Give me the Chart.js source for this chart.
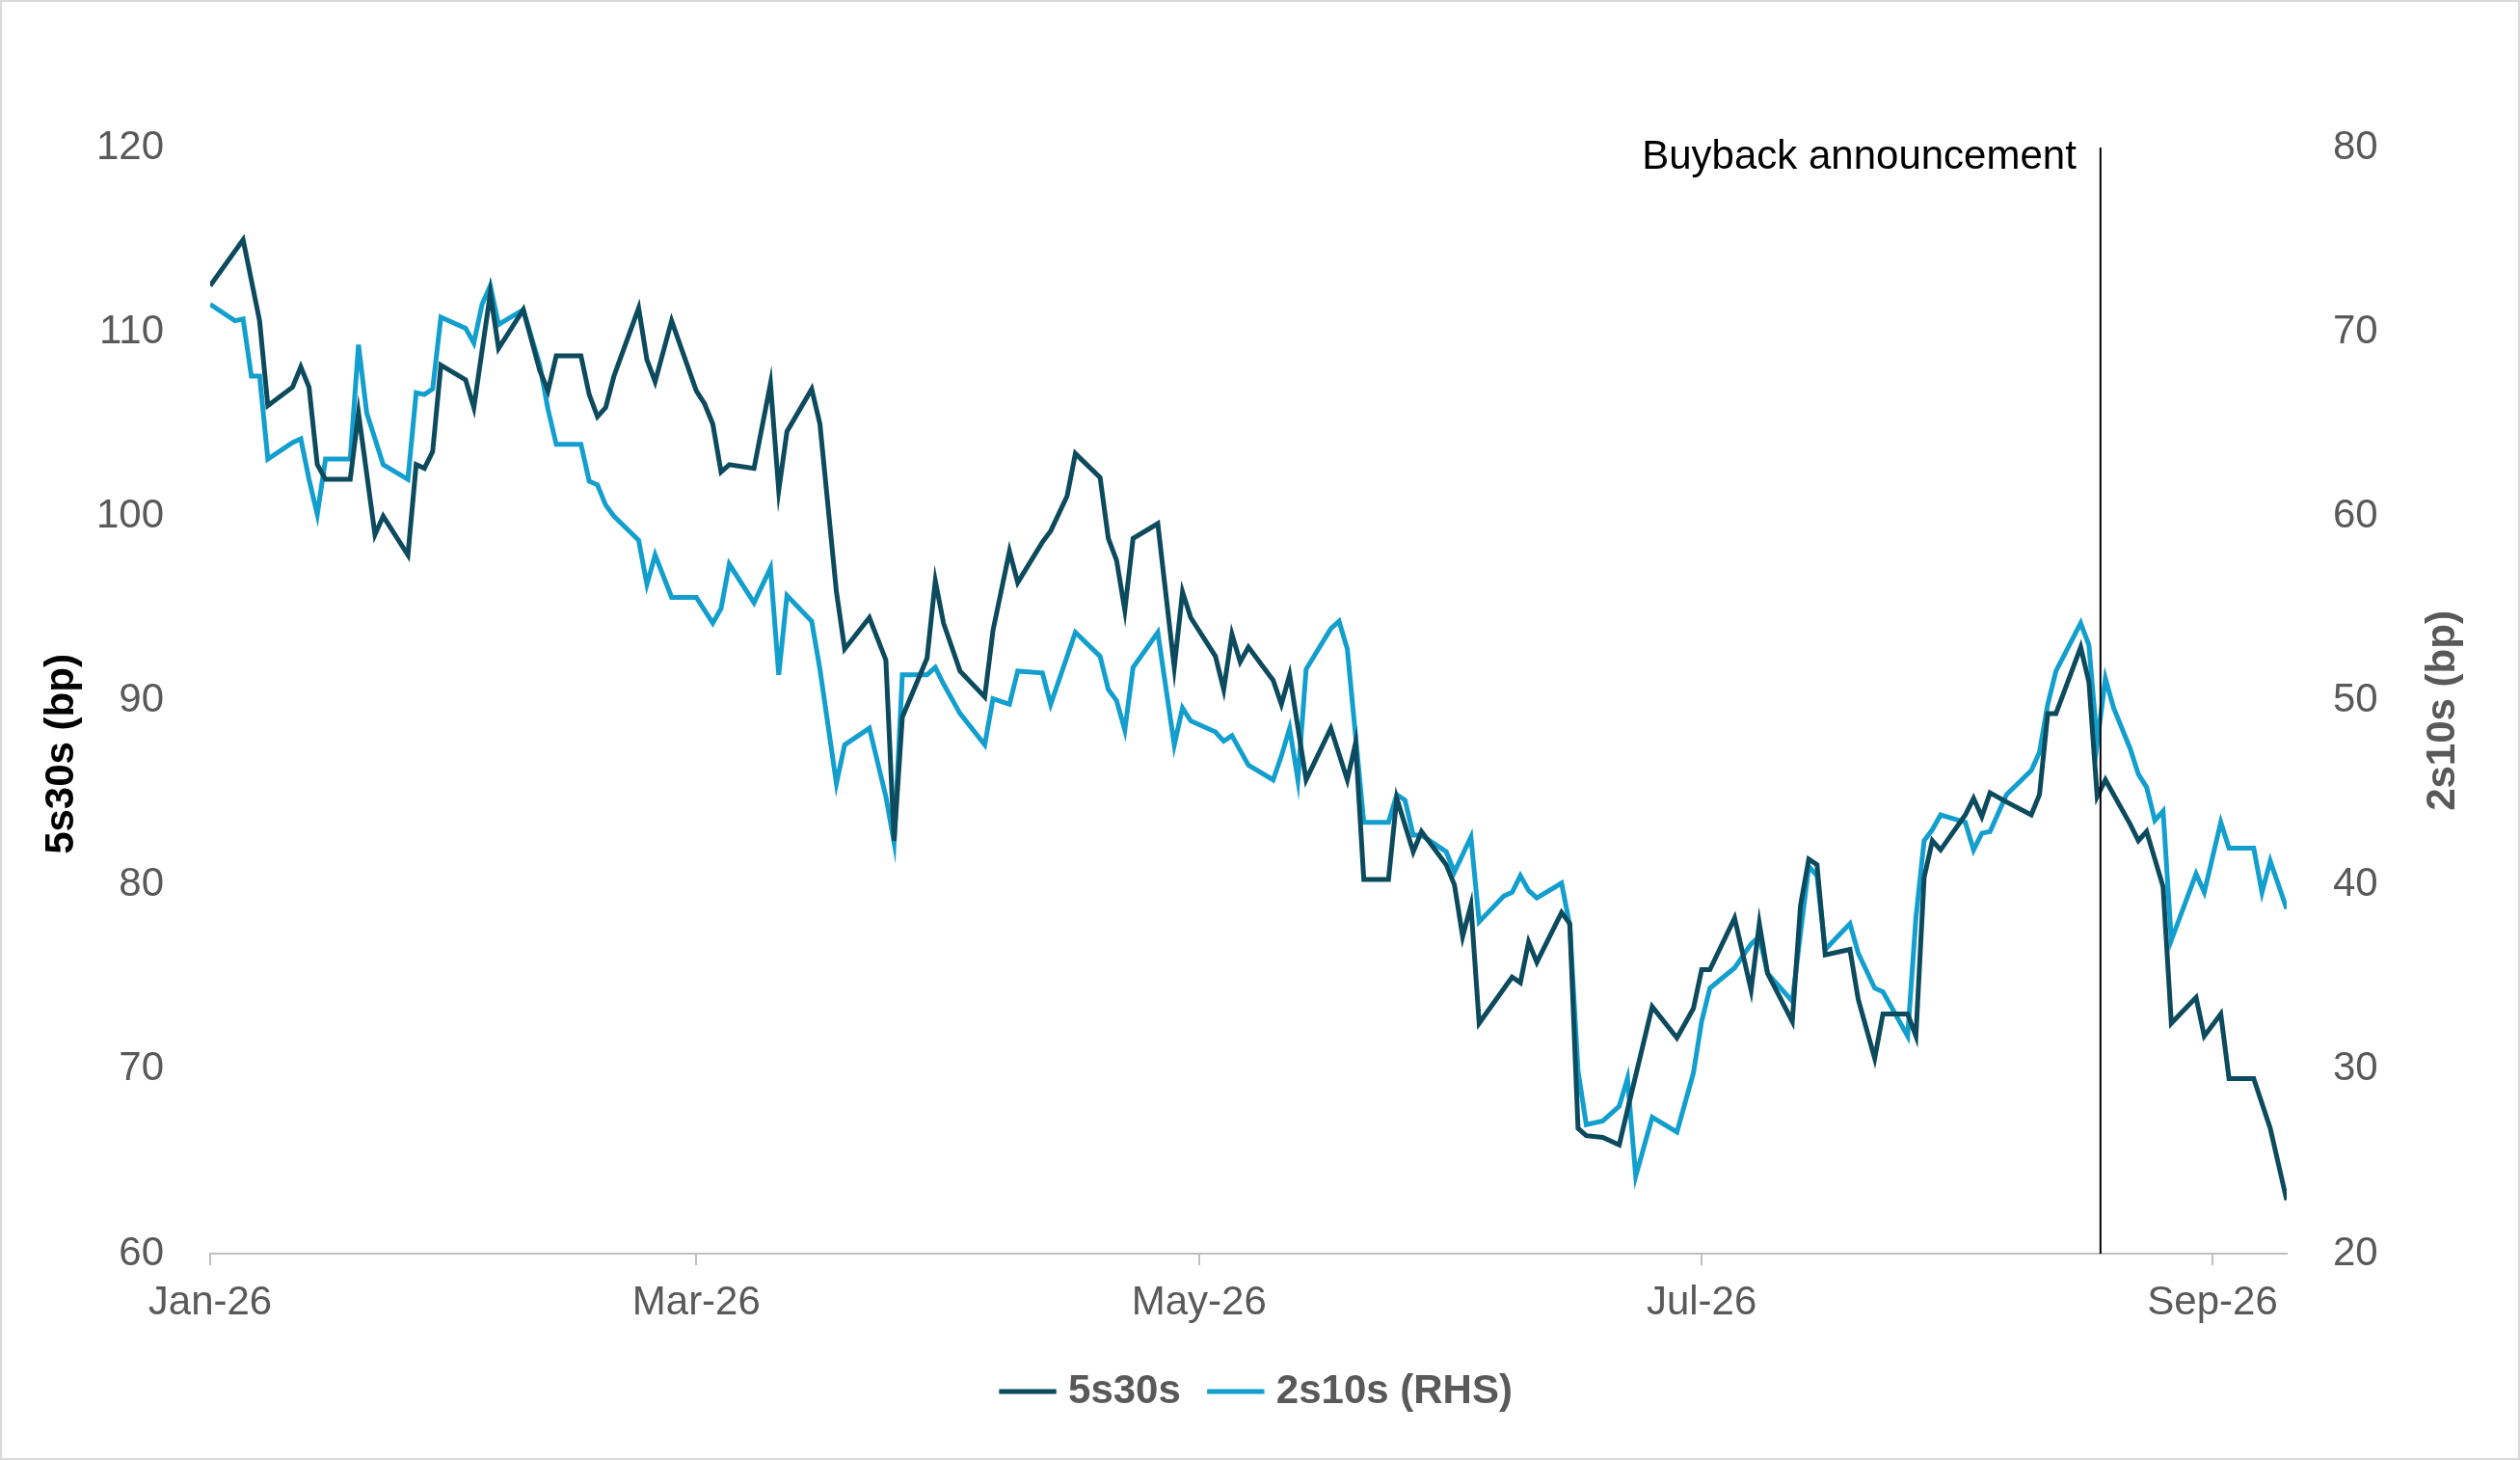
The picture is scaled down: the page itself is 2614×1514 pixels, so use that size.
<!DOCTYPE html>
<html><head><meta charset="utf-8">
<script src="https://cdn.jsdelivr.net/npm/chart.js@4/dist/chart.umd.min.js"></script>
<style>html,body{margin:0;padding:0;background:#fff}#wrap{width:2614px;height:1514px;box-sizing:border-box;border:2px solid #d9d9d9}</style>
</head><body><div id="wrap"><canvas id="c" width="2610" height="1510"></canvas></div>
<script>
const tickDays = [0, 59, 120, 181, 243];
const tickLabels = ["Jan-26", "Mar-26", "May-26", "Jul-26", "Sep-26"];
const eventDay = 229.4;
const eventLabel = "Buyback announcement";
const leftTitle = "5s30s (bp)";
const rightTitle = "2s10s (bp)";

const days5s30s = [0,4,6,7,10,11,12,13,14,17, 18,20,21,24,25,26,27,28,31,32, 34,35,38,40,41,42,45,46,47,48, 49,52,53,54,56,59,60,61,62,63,
66,68,69,70,73,74,76,77,80,82, 83,84,87,88,89,91,94,95,97,98, 101,102,104,105,108,109,110,111,112,115, 117,118,119,122,123,124,125,126,129,130,
131,133,136,138,139,140,143,144,146,147, 150,151,152,153,154,158,159,160,161,164, 165,166,167,169,171,172,175,178,180,181, 182,185,187,188,189,192,193,194,195,196,
199,200,202,203,206,207,208,209,210,213, 214,215,216,218,221,222,223,224,227,228, 229,230,233,234,235,236,237,238,241,242, 244,245,248,250,252];
const vals5s30s = [112.5,115,110.6,106,107,108.1,107,102.8,102,102, 105.6,99,100,97.9,102.8,102.6,103.5,108.2,107.4,105.9, 112.1,109.1,111.2,107.9,106.8,108.7,108.7,106.6,105.4,105.9, 107.6,111.3,108.5,107.3,110.6,106.8,106.1,105,102.4,102.8,
102.6,107.2,101.4,104.6,106.9,105,95.9,92.8,94.5,92.2, 82.4,89.1,92.3,96.5,94.2,91.6,90.2,93.8,98.1,96.4, 98.6,99.2,101.1,103.4,102.1,98.8,97.6,94.9,98.8,99.6, 91.8,95.9,94.5,92.4,90.6,93.6,92.1,92.9,91.1,89.8,
91.4,85.7,88.5,85.7,87.7,80.3,80.3,84.7,81.8,82.9, 81.1,80,77.2,78.9,72.5,75,74.7,76.9,75.8,78.5, 77.9,66.8,66.4,66.3,65.9,67.8,73.4,71.7,73.3,75.4, 75.4,78.2,74.3,77.9,75.2,72.6,78.9,81.4,81.1,76.2,
76.5,73.8,70.6,73,73,71.8,80.4,82.4,81.9,83.8, 84.7,83.7,85,84.5,83.8,84.9,89.3,89.3,92.9,91, 84.8,85.7,83.3,82.4,82.9,81.4,79.9,72.5,73.9,71.8, 73,69.5,69.5,66.8,62.9];

const days2s10s = [0,3,4,5,6,7,10,11,12,13, 14,17,18,19,20,21,24,25,26,27, 28,31,32,33,34,35,38,40,41,42, 45,46,47,48,49,52,53,54,56,59,
61,62,63,66,68,69,70,73,74,76, 77,80,82,83,84,87,88,89,91,94, 95,97,98,101,102,105,108,109,110,111, 112,115,117,118,119,122,123,124,125,126,
129,130,131,132,133,136,137,138,140,143, 144,145,146,147,150,151,153,154,157,158, 159,160,161,164,165,166,167,169,171,172, 173,175,178,180,181,182,185,187,188,189,
192,193,194,195,196,199,200,202,203,206, 207,208,209,210,213,214,215,216,218,221, 222,223,224,227,228,229,230,231,233,234, 235,236,237,238,241,242,244,245,248,249, 250,252];
const vals2s10s = [71.5,70.6,70.7,67.6,67.6,63.1,64,64.2,62,60.1, 63.1,63.1,69.3,65.6,64.2,62.8,62,66.7,66.6,66.9, 70.8,70.2,69.4,71.5,72.5,70.4,71.2,68.2,65.8,63.9, 63.9,61.9,61.7,60.6,60,58.7,56.3,57.9,55.6,55.6,
54.2,55,57.4,55.3,57.2,51.4,55.7,54.3,51.7,45.5, 47.6,48.5,44.8,42.3,51.4,51.4,51.8,50.9,49.3,47.6, 50.1,49.8,51.6,51.5,49.8,53.7,52.4,50.6,50,48.4, 51.8,53.7,47.6,49.6,48.9,48.3,47.8,48.1,47.3,46.5,
45.7,47,48.5,45.7,51.7,53.9,54.3,52.8,43.4,43.4, 44.9,44.6,42.7,42.7,41.8,40.7,42.6,38,39.4,39.6, 40.5,39.7,39.3,40.1,37.8,29.9,27,27.2,28,29.5, 24.2,27.4,26.6,29.8,32.6,34.4,35.5,36.8,37.2,35.2,
33.7,37.4,41,40.5,36.5,37.9,36.3,34.4,34.2,31.8, 38.2,42.4,43,43.8,43.4,41.9,42.8,42.9,44.9,46.2, 47.2,49.8,51.6,54.2,53,47.7,51.2,49.6,47.4,46, 45.3,43.5,44,37,40.6,39.6,43.4,42,42,39.6, 41.3,38.7];

const pts = (d, v) => d.slice(0, Math.min(d.length, v.length)).map((x, i) => ({x, y: v[i]}));
const FAM = '"Liberation Sans", Arial, sans-serif';

const eventPlugin = {
  id: 'eventLine',
  afterDatasetsDraw(chart) {
    const {ctx, chartArea, scales} = chart;
    const px = scales.x.getPixelForValue(eventDay);
    ctx.save();
    ctx.strokeStyle = '#000'; ctx.lineWidth = 2;
    ctx.beginPath(); ctx.moveTo(px, chartArea.top); ctx.lineTo(px, chartArea.bottom); ctx.stroke();
    ctx.fillStyle = '#000'; ctx.font = '42px ' + FAM;
    ctx.textAlign = 'right'; ctx.textBaseline = 'middle';
    ctx.fillText(eventLabel, px - 25, chartArea.top + 10);
    ctx.font = 'bold 42px ' + FAM; ctx.textAlign = 'center';
    const drawV = (text, x, y, color) => {
      ctx.save(); ctx.translate(x, y); ctx.rotate(-Math.PI / 2);
      ctx.fillStyle = color; ctx.fillText(text, 0, 0); ctx.restore();
    };
    drawV(leftTitle, 62, 780, '#000');
    drawV(rightTitle, 2532, 735, '#595959');
    ctx.restore();
  }
};

const tickFont = {family: FAM, size: 42};
new Chart(document.getElementById('c'), {
  type: 'line',
  data: { datasets: [
    {label: '5s30s', data: pts(days5s30s, vals5s30s), yAxisID: 'y', borderColor: '#0c4a5d', backgroundColor: '#0c4a5d', borderWidth: 5, pointRadius: 0, tension: 0},
    {label: '2s10s (RHS)', data: pts(days2s10s, vals2s10s), yAxisID: 'y1', borderColor: '#139fce', backgroundColor: '#139fce', borderWidth: 5, pointRadius: 0, tension: 0}
  ]},
  options: {
    responsive: false, animation: false,
    layout: {padding: {top: 151, left: 0, right: 0, bottom: 38}},
    plugins: {
      legend: {position: 'bottom', labels: {usePointStyle: true, pointStyle: 'line', boxWidth: 60, padding: 36,
        font: {family: FAM, size: 42, weight: 'bold'}, color: '#595959'}},
      tooltip: {enabled: false}
    },
    scales: {
      x: {type: 'linear', min: 0, max: 252,
        afterBuildTicks: s => { s.ticks = tickDays.map(v => ({value: v})); },
        afterFit: s => { s.height = 86; },
        ticks: {callback: v => tickLabels[tickDays.indexOf(v)] ?? '', font: tickFont, color: '#595959', maxRotation: 0, padding: 14, autoSkip: false},
        grid: {display: true, drawOnChartArea: false, drawTicks: true, tickLength: 12, color: '#bfbfbf', lineWidth: 2},
        border: {color: '#bfbfbf', width: 2}
      },
      y: {position: 'left', min: 60, max: 120,
        afterFit: s => { s.width = 216; },
        ticks: {stepSize: 10, font: tickFont, color: '#595959', padding: 40},
        grid: {display: false}, border: {display: false}
      },
      y1: {position: 'right', min: 20, max: 80,
        afterFit: s => { s.width = 240; },
        ticks: {stepSize: 10, font: tickFont, color: '#595959', padding: 40},
        grid: {display: false}, border: {display: false}
      }
    }
  },
  plugins: [eventPlugin]
});
</script></body></html>
